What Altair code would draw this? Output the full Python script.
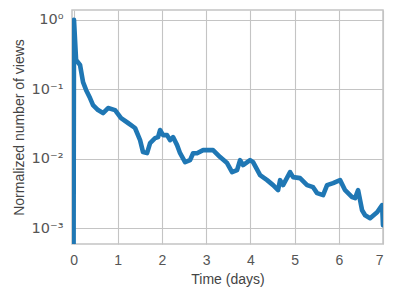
import altair as alt
import pandas as pd

days = [0.0, 0.01, 0.057, 0.147, 0.215, 0.283, 0.373, 0.441, 0.554, 0.667, 0.781, 0.939,
        1.075, 1.233, 1.391, 1.505, 1.572, 1.663, 1.731, 1.844, 1.912, 1.957, 2.025, 2.115,
        2.183, 2.251, 2.342, 2.410, 2.523, 2.636, 2.704, 2.794, 2.930, 3.156, 3.315, 3.473,
        3.586, 3.699, 3.767, 3.835, 3.993, 4.061, 4.220, 4.378, 4.514, 4.627, 4.672, 4.740,
        4.898, 4.966, 5.124, 5.283, 5.419, 5.509, 5.645, 5.735, 5.871, 6.029, 6.143, 6.301,
        6.369, 6.437, 6.527, 6.595, 6.708, 6.867, 6.980, 7.0]
views = [0.0003, 1.0, 0.265, 0.224, 0.127, 0.098, 0.0748, 0.0593, 0.0502, 0.0455, 0.0537, 0.0502,
         0.0385, 0.0327, 0.0277, 0.0185, 0.01245, 0.01205, 0.0168, 0.0198, 0.0205, 0.0259, 0.0219, 0.0219,
         0.0185, 0.0205, 0.0157, 0.0120, 0.00893, 0.00955, 0.0120, 0.0120, 0.0133, 0.0133, 0.01054, 0.00865,
         0.00641, 0.00684, 0.00955, 0.00809, 0.00955, 0.00893, 0.00579, 0.00491, 0.00416, 0.00352, 0.00491, 0.00416,
         0.00641, 0.00543, 0.00525, 0.00416, 0.00389, 0.00319, 0.00299, 0.00416, 0.00445, 0.00491, 0.00352, 0.00279,
         0.00270, 0.00352, 0.00181, 0.00153, 0.00139, 0.00169, 0.00214, 0.00110]

x_ticks = [0, 1, 2, 3, 4, 5, 6, 7]
y_ticks = [0.001, 0.01, 0.1, 1]

df = pd.DataFrame({"t": days, "v": views, "order": list(range(len(days)))})

label_expr = ("datum.value >= 0.5 ? '10⁰' : datum.value >= 0.05 ? '10⁻¹' : "
              "datum.value >= 0.005 ? '10⁻²' : '10⁻³'")

chart = alt.Chart(df).mark_line(
    clip=True, color="#1f77b4", strokeWidth=4.6, strokeCap="round", strokeJoin="round"
).encode(
    x=alt.X("t:Q", scale=alt.Scale(domain=[-0.035, 7], nice=False, zero=False),
            axis=alt.Axis(values=x_ticks, title="Time (days)", format="d", labelPadding=9,
                          titlePadding=5)),
    y=alt.Y("v:Q", scale=alt.Scale(type="log", domain=[0.00059, 1.39], nice=False),
            axis=alt.Axis(values=y_ticks, title="Normalized number of views", labelExpr=label_expr,
                          labelPadding=9, titlePadding=5, labelFont="DejaVu Sans",
                          labelFontSize=14.5)),
    order="order:Q",
).properties(
    width=311, height=234,
    autosize=alt.AutoSizeParams(type="none"),
    padding={"left": 64, "top": 2, "right": 5, "bottom": 44},
).configure_view(
    stroke="#c4c4c4", strokeWidth=1.5
).configure_axis(
    domain=False, ticks=False, tickSize=0,
    grid=True, gridColor="#c4c4c4", gridWidth=1.1,
    labelFont="Liberation Sans", titleFont="Liberation Sans",
    labelFontSize=14, titleFontSize=14, labelColor="#555555", titleColor="#444444",
    titleFontWeight="normal",
)

chart.save("out.html", embed_options={"renderer": "svg", "actions": False})
